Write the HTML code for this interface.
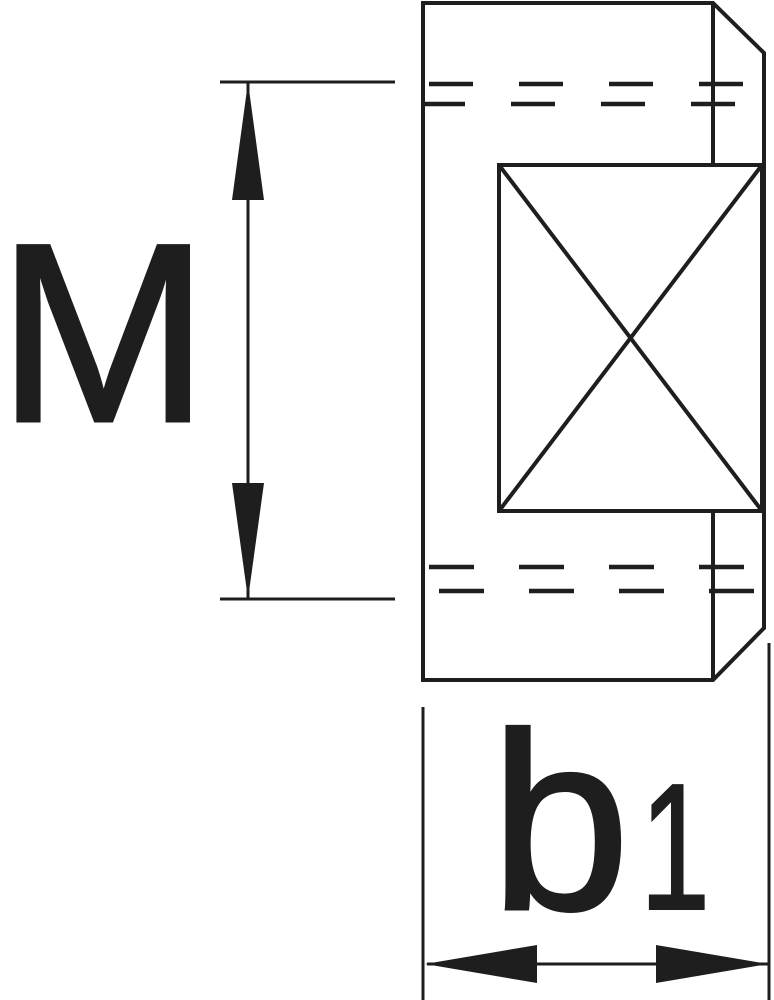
<!DOCTYPE html>
<html><head><style>html,body{margin:0;padding:0;background:#fff}svg{display:block}</style></head>
<body>
<svg width="774" height="1000" viewBox="0 0 774 1000" xmlns="http://www.w3.org/2000/svg">
<g stroke="#1e1e1e" stroke-width="4" fill="none">
<path d="M423 3 H713 L764 53 V628 L713 680 H423 Z"/>
<path d="M713 3 V165 M713 511 V680"/>
<rect x="499" y="165" width="263" height="346"/>
<path d="M499 165 L762 511 M762 165 L499 511"/>
<g stroke-width="4.5">
<path d="M429 84 H473 M519 84 H563 M609 84 H653 M699 84 H743"/>
<path d="M425 104 H465 M511 104 H555 M601 104 H645 M691 104 H735"/>
<path d="M429 567 H474 M519 567 H564 M609 567 H654 M699 567 H744"/>
<path d="M439 591 H484 M529 591 H574 M619 591 H664 M709 591 H754"/>
</g>
<g stroke-width="3">
<path d="M220 82 H395 M220 599 H395 M248 82 V599"/>
<path d="M423 707 V1000 M769 643 V1000 M427 964 H768"/>
</g>
</g>
<g fill="#1e1e1e">
<polygon points="248,82 232,200 264,200"/>
<polygon points="248,599 232,483 264,483"/>
<polygon points="425,964 537,945 537,983"/>
<polygon points="768,964 656,945 656,983"/>
</g>
<g font-family="Liberation Sans, sans-serif" fill="#1e1e1e" stroke="#1e1e1e" stroke-width="3">
<text x="-3" y="421" font-size="255">M</text>
<text x="490" y="909" font-size="252">b</text>
<text transform="translate(640,909) scale(0.7,1)" x="0" y="0" font-size="180" stroke-width="2">1</text>
</g>
</svg>
</body></html>
